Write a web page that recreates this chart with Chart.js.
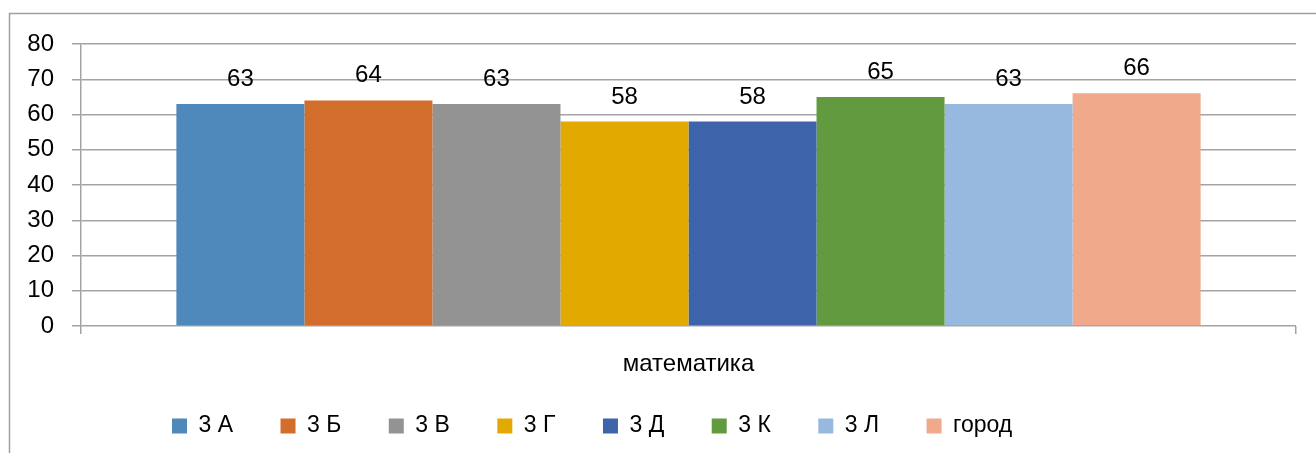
<!DOCTYPE html>
<html>
<head>
<meta charset="utf-8">
<script src="https://cdn.jsdelivr.net/npm/chart.js@4/dist/chart.umd.min.js"></script>
<style>
  html, body { margin: 0; padding: 0; background: #fff; }
  #wrap { position: relative; width: 1316px; height: 453px; }
</style>
</head>
<body>
<div id="wrap"><canvas id="c" width="1316" height="453"></canvas></div>
<script>
const categories = ['математика'];
const seriesNames = ['3 А', '3 Б', '3 В', '3 Г', '3 Д', '3 К', '3 Л', 'город'];
const seriesValues = [63, 64, 63, 58, 58, 65, 63, 66];
const seriesColors = ['#4f88bb', '#d36d2b', '#939393', '#e2aa00', '#3d64ab', '#629b3f', '#97b9df', '#f0a98a'];
const yTicks = [0, 10, 20, 30, 40, 50, 60, 70, 80];

const FONT = "'Liberation Sans', Arial, sans-serif";
const GRID = '#a3a3a3';

const datasets = seriesNames.map((name, i) => ({
  label: name,
  data: [seriesValues[i]],
  backgroundColor: seriesColors[i],
  borderWidth: 0,
  categoryPercentage: 0.843,
  barPercentage: 1.0
}));

const frame = {
  id: 'frame',
  beforeDraw(chart) {
    const ctx = chart.ctx;
    ctx.save();
    ctx.strokeStyle = '#a0a0a0';
    ctx.lineWidth = 1.5;
    ctx.beginPath();
    ctx.moveTo(9.5, 453);
    ctx.lineTo(9.5, 13.5);
    ctx.lineTo(1316, 13.5);
    ctx.stroke();
    ctx.restore();
  }
};

const layoutTweaks = {
  id: 'layoutTweaks',
  afterLayout(chart) {
    // let the category label draw below the (compact) axis box without clipping
    if (chart.scales.x) chart.scales.x.bottom = chart.height;
  },
  beforeDraw(chart) {
    const lg = chart.legend;
    if (!lg || !lg.legendHitBoxes || !lg.legendHitBoxes.length) return;
    const delta = 172 - lg.legendHitBoxes[0].left;
    if (Math.abs(delta) < 0.01) return;
    lg.left += delta;
    lg.right += delta;
    lg.legendHitBoxes.forEach(h => { h.left += delta; });
  }
};

const valueLabels = {
  id: 'valueLabels',
  afterDatasetsDraw(chart) {
    const ctx = chart.ctx;
    ctx.save();
    ctx.font = '24px ' + FONT;
    ctx.fillStyle = '#000';
    ctx.textAlign = 'center';
    ctx.textBaseline = 'alphabetic';
    chart.data.datasets.forEach((ds, i) => {
      const meta = chart.getDatasetMeta(i);
      meta.data.forEach((bar, j) => {
        ctx.fillText(String(ds.data[j]), bar.x, bar.y - 18);
      });
    });
    ctx.restore();
  }
};

new Chart(document.getElementById('c'), {
  type: 'bar',
  data: { labels: categories, datasets },
  plugins: [frame, layoutTweaks, valueLabels],
  options: {
    responsive: false,
    animation: false,
    layout: { padding: { left: 0, right: 20, top: 44, bottom: 5.5 } },
    plugins: {
      tooltip: { enabled: false },
      legend: {
        position: 'bottom',
        labels: {
          boxWidth: 15,
          boxHeight: 15,
          padding: 47.5,
          color: '#000',
          font: { family: FONT, size: 23 }
        }
      }
    },
    scales: {
      x: {
        offset: true,
        grid: { display: true, drawOnChartArea: false, drawTicks: true, tickLength: 8, color: GRID, lineWidth: 1.5, offset: true },
        border: { display: false },
        ticks: { color: '#000', font: { family: FONT, size: 24 }, padding: 16, maxRotation: 0 },
        afterFit(s) { s.height = 41; }
      },
      y: {
        min: 0,
        max: 80,
        afterBuildTicks(s) { s.ticks = yTicks.map(v => ({ value: v })); },
        grid: { color: GRID, lineWidth: 1.5, tickLength: 9 },
        border: { display: true, color: GRID, width: 1.5 },
        ticks: { color: '#000', font: { family: FONT, size: 24 }, padding: 18 },
        afterFit(s) { s.width = 81; }
      }
    }
  }
});
</script>
</body>
</html>
